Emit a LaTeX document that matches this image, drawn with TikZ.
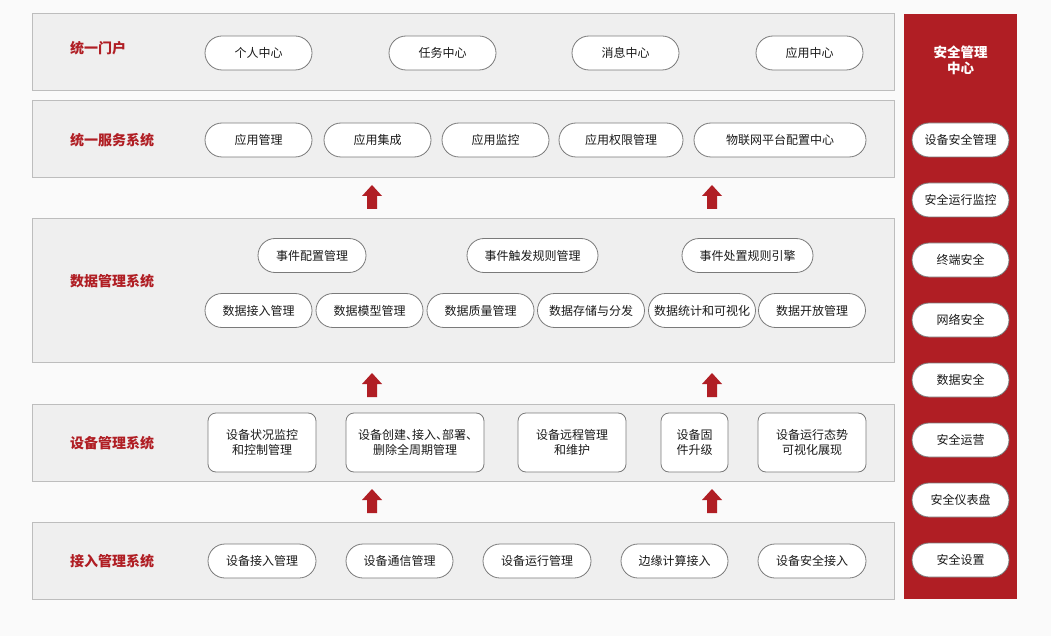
\documentclass[tikz,border=0pt]{standalone}
\usepackage{fontspec}
\setmainfont{Noto Sans CJK SC}
\newfontfamily\halffont[RawFeature=+halt]{Noto Sans CJK SC}
\usetikzlibrary{positioning}
\definecolor{bgc}{HTML}{FAFAFA}
\definecolor{bandc}{HTML}{EFEFEF}
\definecolor{bandline}{HTML}{BDBDBD}
\definecolor{redc}{HTML}{B01E24}
\definecolor{pillline}{HTML}{7A7A7A}
\definecolor{txt}{HTML}{1A1A1A}
\tikzset{
  x=1pt, y=-1pt,
  band/.style={draw=bandline, fill=bandc, line width=1pt, anchor=north west, inner sep=0pt, outer sep=0pt},
  bandlabel/.style={text=redc, font=\fontsize{14}{16}\selectfont\bfseries, anchor=west, inner sep=0pt},
  pill/.style={draw=pillline, fill=white, line width=0.8pt, rounded corners=17pt, minimum height=34pt, inner sep=0pt, text=txt, font=\fontsize{12}{14}\selectfont},
  box/.style={draw=pillline, fill=white, line width=0.8pt, rounded corners=8pt, minimum height=59pt, inner sep=0pt, text=txt, align=center, font=\fontsize{12}{14.5}\selectfont},
  uparrow/.style={fill=redc},
}
\newcommand{\uparr}[3]{% name, cx, top y
  \fill[uparrow] (#2-10,#3+11) -- (#2,#3) -- (#2+10,#3+11) -- (#2+5,#3+11) -- (#2+5,#3+24) -- (#2-5,#3+24) -- (#2-5,#3+11) -- cycle;
  \coordinate (#1) at (#2,#3);
}
\begin{document}
\begin{tikzpicture}
\fill[bgc] (0,0) rectangle (1051,636);
\useasboundingbox (0,0) rectangle (1051,636);

% bands
\node[band, minimum width=862pt, minimum height=77pt] (b1) at (32,14) {};
\node[band, minimum width=862pt, minimum height=77pt] (b2) at (32,101) {};
\node[band, minimum width=862pt, minimum height=143pt] (b3) at (32,219) {};
\node[band, minimum width=862pt, minimum height=77pt] (b4) at (32,404) {};
\node[band, minimum width=862pt, minimum height=77pt] (b5) at (32,522) {};

\node[bandlabel] (l1) at (70,48) {统一门户};
\node[bandlabel] (l2) at (70,140) {统一服务系统};
\node[bandlabel] (l3) at (70,281) {数据管理系统};
\node[bandlabel] (l4) at (70,443) {设备管理系统};
\node[bandlabel] (l5) at (70,561) {接入管理系统};

% right panel
\node[fill=redc, anchor=north west, minimum width=113pt, minimum height=585pt, inner sep=0pt, outer sep=0pt] (sec) at (904,14) {};
\node[text=white, font=\fontsize{13.5}{16}\selectfont\bfseries, align=center] (sectitle) at (960.5,60) {安全管理\\中心};
\node[pill, minimum width=97pt] (s1) at (960.5,140) {设备安全管理};
\node[pill, minimum width=97pt] (s2) at (960.5,200) {安全运行监控};
\node[pill, minimum width=97pt] (s3) at (960.5,260) {终端安全};
\node[pill, minimum width=97pt] (s4) at (960.5,320) {网络安全};
\node[pill, minimum width=97pt] (s5) at (960.5,380) {数据安全};
\node[pill, minimum width=97pt] (s6) at (960.5,440) {安全运营};
\node[pill, minimum width=97pt] (s7) at (960.5,500) {安全仪表盘};
\node[pill, minimum width=97pt] (s8) at (960.5,560) {安全设置};

% band 1
\node[pill, minimum width=107pt] (p11) at (258.5,53) {个人中心};
\node[pill, minimum width=107pt] (p12) at (442.5,53) {任务中心};
\node[pill, minimum width=107pt] (p13) at (625.5,53) {消息中心};
\node[pill, minimum width=107pt] (p14) at (809.5,53) {应用中心};

% band 2
\node[pill, minimum width=107pt] (p21) at (258.5,140) {应用管理};
\node[pill, minimum width=107pt] (p22) at (377.5,140) {应用集成};
\node[pill, minimum width=107pt] (p23) at (495.5,140) {应用监控};
\node[pill, minimum width=124pt] (p24) at (621,140) {应用权限管理};
\node[pill, minimum width=172pt] (p25) at (780,140) {物联网平台配置中心};

% band 3
\node[pill, minimum width=108pt] (e1) at (312,255.5) {事件配置管理};
\node[pill, minimum width=131pt] (e2) at (532.5,255.5) {事件触发规则管理};
\node[pill, minimum width=131pt] (e3) at (747.5,255.5) {事件处置规则引擎};
\node[pill, minimum width=107pt] (d1) at (258.5,310.5) {数据接入管理};
\node[pill, minimum width=107pt] (d2) at (369.5,310.5) {数据模型管理};
\node[pill, minimum width=107pt] (d3) at (480.5,310.5) {数据质量管理};
\node[pill, minimum width=107pt] (d4) at (591,310.5) {数据存储与分发};
\node[pill, minimum width=107pt] (d5) at (702,310.5) {数据统计和可视化};
\node[pill, minimum width=107pt] (d6) at (812,310.5) {数据开放管理};

% band 4
\node[box, minimum width=108pt] (m1) at (262,442.5) {设备状况监控\\和控制管理};
\node[box, minimum width=138pt] (m2) at (415,442.5) {\halffont 设备创建、接入、部署、\\\halffont 删除全周期管理};
\node[box, minimum width=108pt] (m3) at (572,442.5) {设备远程管理\\和维护};
\node[box, minimum width=67pt] (m4) at (694.5,442.5) {设备固\\件升级};
\node[box, minimum width=108pt] (m5) at (812,442.5) {设备运行态势\\可视化展现};

% band 5
\node[pill, minimum width=108pt] (a1) at (262,561) {设备接入管理};
\node[pill, minimum width=107pt] (a2) at (399.5,561) {设备通信管理};
\node[pill, minimum width=108pt] (a3) at (537,561) {设备运行管理};
\node[pill, minimum width=107pt] (a4) at (674.5,561) {边缘计算接入};
\node[pill, minimum width=108pt] (a5) at (812,561) {设备安全接入};

% arrows
\uparr{u1}{372}{185}
\uparr{u2}{712}{185}
\uparr{u3}{372}{373}
\uparr{u4}{712}{373}
\uparr{u5}{372}{489}
\uparr{u6}{712}{489}
\end{tikzpicture}
\end{document}
